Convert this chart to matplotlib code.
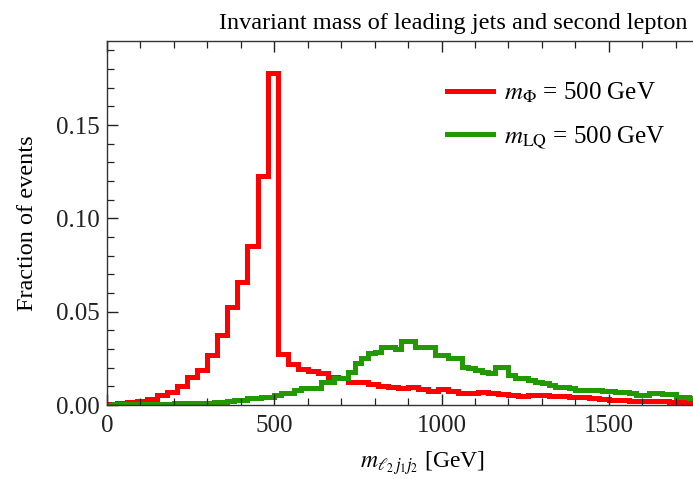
import numpy as np
import matplotlib
matplotlib.use("Agg")
import matplotlib.pyplot as plt
from matplotlib.ticker import MultipleLocator

# 直方图数据，横轴单位 GeV
red_width = 30
red_vals = [0.0005, 0.001, 0.0015, 0.002, 0.003, 0.0054, 0.0071, 0.0102, 0.0152, 0.019,
            0.0268, 0.0375, 0.0527, 0.0657, 0.085, 0.1228, 0.178, 0.0275, 0.022, 0.0195,
            0.018, 0.017, 0.015, 0.0145, 0.0125, 0.0125, 0.011, 0.0103, 0.0095, 0.0089,
            0.0098, 0.0084, 0.0075, 0.0084, 0.0075, 0.0066, 0.0066, 0.0068, 0.0063, 0.0058,
            0.0052, 0.005, 0.0054, 0.0054, 0.0049, 0.0048, 0.0045, 0.0041, 0.0038, 0.003,
            0.0025, 0.0025, 0.0022, 0.0022, 0.002, 0.002, 0.0018, 0.0018, 0.0016, 0.0016,
            0.0015, 0.0014, 0.0013, 0.0012, 0.0012, 0.0011, 0.001]

green_width = 20
green_vals = [0.0002, 0.0003, 0.0004, 0.0004, 0.0005, 0.0005, 0.0006, 0.0006, 0.0007, 0.0008,
              0.0009, 0.0009, 0.001, 0.0011, 0.0012, 0.0013, 0.0014, 0.0016, 0.002, 0.0027,
              0.0029, 0.0036, 0.0036, 0.0045, 0.0045, 0.0054, 0.0063, 0.0063, 0.008, 0.0089,
              0.0089, 0.0089, 0.0125, 0.0125, 0.0143, 0.0143, 0.0179, 0.0223, 0.025, 0.028,
              0.0286, 0.031, 0.0312, 0.0298, 0.0344, 0.0344, 0.031, 0.031, 0.031, 0.027,
              0.027, 0.025, 0.025, 0.0205, 0.0196, 0.019, 0.0179, 0.017, 0.0202, 0.0202,
              0.016, 0.0143, 0.0143, 0.0134, 0.0125, 0.012, 0.0107, 0.0095, 0.0095, 0.009,
              0.008, 0.008, 0.008, 0.0078, 0.0076, 0.0076, 0.0071, 0.0071, 0.0063, 0.0054,
              0.0054, 0.0063, 0.0063, 0.006, 0.006, 0.0045, 0.0045, 0.004, 0.004, 0.0038,
              0.0035, 0.0033, 0.003, 0.003, 0.0028, 0.0026, 0.0025, 0.0023, 0.0022, 0.002]

labels = [r'$m_{\Phi}$ = 500 GeV', r'$m_{\mathrm{LQ}}$ = 500 GeV']
x_ticks = [0, 500, 1000, 1500]
y_ticks = [0.0, 0.05, 0.10, 0.15]

plt.rcParams['font.family'] = 'serif'
plt.rcParams['font.serif'] = ['Liberation Serif', 'DejaVu Serif']
plt.rcParams['mathtext.fontset'] = 'stix'

fig = plt.figure(figsize=(6.93, 4.79), dpi=100)
# 坐标轴右侧超出画布（原图被裁掉）
ax = fig.add_axes([107 / 693, 74 / 479, 669 / 693, 364 / 479])

red_edges = np.arange(len(red_vals) + 1) * red_width
green_edges = np.arange(len(green_vals) + 1) * green_width

ax.stairs(red_vals, red_edges, color='#ff0000', lw=3.6, label=labels[0])
ax.stairs(green_vals, green_edges, color='#229900', lw=3.6, label=labels[1])

ax.set_xlim(0, 2000)
ax.set_ylim(0, 0.195)
ax.set_xticks(x_ticks)
ax.set_yticks(y_ticks)
ax.set_yticklabels(['%.2f' % v for v in y_ticks])
ax.xaxis.set_minor_locator(MultipleLocator(100))
ax.yaxis.set_minor_locator(MultipleLocator(0.01))
ax.tick_params(which='both', direction='in', top=True, right=False,
               labelsize=18, colors='#222222')
ax.tick_params(which='major', length=8, width=1.0)
ax.tick_params(which='minor', length=5, width=0.9)
ax.tick_params(axis='x', pad=7)
ax.tick_params(axis='y', pad=5)
for s in ax.spines.values():
    s.set_color('#333333')
    s.set_linewidth(1.0)

ax.set_xlabel(r'$m_{\ell_2\, j_1 j_2}$ [GeV]', fontsize=17, labelpad=9, x=0.472)
ax.set_ylabel('Fraction of events', fontsize=17.5, labelpad=13)
ax.set_title('Invariant mass of leading jets and second lepton', fontsize=17.5,
             pad=9, x=0.517)

ax.legend(loc='upper left', bbox_to_anchor=(434 / 693, 1 - 68 / 479),
          bbox_transform=fig.transFigure, frameon=False, fontsize=18,
          handlelength=1.85, handletextpad=0.45, labelspacing=0.8, borderpad=0)

fig.savefig('out.png', dpi=100)
